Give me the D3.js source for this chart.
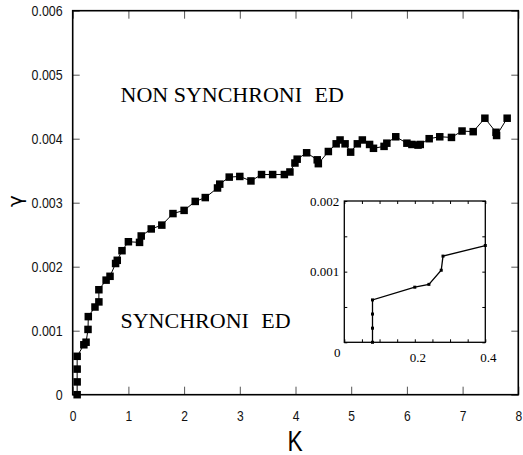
<!DOCTYPE html>
<html><head><meta charset="utf-8">
<script src="https://cdn.jsdelivr.net/npm/d3@7"></script>
<style>
html,body{margin:0;padding:0;background:#fff;}
svg{display:block;}
.narrow{font-family:"Liberation Sans Narrow","Arial Narrow","Liberation Sans",Arial,sans-serif;}
.serif{font-family:"Liberation Serif","Times New Roman",Times,serif;}
.greek{font-family:"DejaVu Sans",sans-serif;}
</style>
</head><body>
<svg id="chart" width="523" height="455"></svg>
<script>
// K values (x) and gamma values (y)
const kValues = [0.08,0.08,0.08,0.08,0.2,0.24,0.275,0.28,0.40,0.47,0.47,0.60,0.67,0.77,0.80,0.885,1.0,1.2,1.23,1.41,1.60,1.80,2.0,2.2,2.38,2.6,2.64,2.81,3.0,3.2,3.39,3.59,3.8,3.9,3.99,4.03,4.2,4.39,4.41,4.59,4.73,4.80,4.89,4.99,5.11,5.2,5.33,5.40,5.59,5.64,5.80,6.0,6.09,6.20,6.24,6.40,6.59,6.80,6.99,7.19,7.40,7.60,7.61,7.80];
const gammaValues = [0,0.0002,0.0004,0.0006,0.00078,0.00082,0.00102,0.00122,0.00137,0.00145,0.00164,0.00179,0.00185,0.00205,0.0021,0.00225,0.00239,0.00238,0.00248,0.00259,0.00265,0.00283,0.00288,0.00302,0.00308,0.00323,0.00329,0.0034,0.00341,0.00334,0.00344,0.00344,0.00344,0.00348,0.00362,0.00368,0.00378,0.00367,0.00361,0.0038,0.00392,0.00398,0.00392,0.00379,0.00392,0.00398,0.00391,0.00385,0.00388,0.00393,0.00403,0.00393,0.00391,0.0039,0.00391,0.004,0.00403,0.00402,0.00412,0.00411,0.00432,0.0041,0.00405,0.00432];

const xTicks = [0,1,2,3,4,5,6,7,8];
const yTicks = [0,0.001,0.002,0.003,0.004,0.005,0.006];
const yTickLabels = ["0","0.001","0.002","0.003","0.004","0.005","0.006"];
const insetXTicks = [0,0.05,0.1,0.15,0.2,0.25,0.3,0.35,0.4];
const insetXLabels = [[0.2,"0.2"],[0.4,"0.4"]];
const insetYTicks = [0,0.0005,0.001,0.0015,0.002];
const insetYLabels = [[0.001,"0.001"],[0.002,"0.002"]];
const insetKMax = 0.4;

const data = kValues.map((k,i)=>({k:k,g:gammaValues[i]}));
const svg = d3.select("#chart");

// condense a sans text (no narrow font installed)
function condense(sel, f){
  sel.each(function(){
    const len = this.getComputedTextLength();
    if(len>0){ d3.select(this).attr("textLength",len*f).attr("lengthAdjust","spacingAndGlyphs"); }
  });
}

// main scales
const L=72.7,R=518.3,T=10.7,B=394.7;
const x = d3.scaleLinear().domain([0,8]).range([L,R]);
const y = d3.scaleLinear().domain([0,0.006]).range([B,T]);

const tickColor="#555";
function styleAxis(g){
  g.select(".domain").remove();
  g.selectAll(".tick line").attr("stroke",tickColor).attr("stroke-width",1);
}
// left axis
svg.append("g").attr("transform",`translate(${L},0)`)
  .call(d3.axisLeft(y).tickValues(yTicks).tickSize(-7).tickPadding(10)
    .tickFormat((d,i)=>yTickLabels[i]))
  .call(styleAxis)
  .call(g=>g.selectAll("text").attr("class","narrow").attr("font-size",15).attr("fill","#111").attr("font-family",null))
  .call(g=>condense(g.selectAll("text"),0.83));
// right axis
svg.append("g").attr("transform",`translate(${R},0)`)
  .call(d3.axisRight(y).tickValues(yTicks).tickSize(-7).tickFormat(""))
  .call(styleAxis);
// bottom axis
svg.append("g").attr("transform",`translate(0,${B})`)
  .call(d3.axisBottom(x).tickValues(xTicks).tickSize(-8).tickPadding(16).tickFormat(d3.format("d")))
  .call(styleAxis)
  .call(g=>g.selectAll("text").attr("class","narrow").attr("font-size",14.5).attr("fill","#111").attr("font-family",null))
  .call(g=>condense(g.selectAll("text"),0.83));
// top axis
svg.append("g").attr("transform",`translate(0,${T})`)
  .call(d3.axisTop(x).tickValues(xTicks).tickSize(-8).tickFormat(""))
  .call(styleAxis);

// frame
svg.append("rect").attr("x",L).attr("y",T).attr("width",R-L).attr("height",B-T)
  .attr("fill","none").attr("stroke","#000").attr("stroke-width",1.6);

// line + markers
const line = d3.line().x(d=>x(d.k)).y(d=>y(d.g));
svg.append("path").datum(data).attr("d",line).attr("fill","none").attr("stroke","#000").attr("stroke-width",1);
const ms=7.5;
svg.append("g").selectAll("rect").data(data).join("rect")
  .attr("x",d=>x(d.k)-ms/2).attr("y",d=>y(d.g)-ms/2).attr("width",ms).attr("height",ms).attr("fill","#000");

// axis titles
svg.append("text").attr("class","narrow").attr("x",(L+R)/2-0.5).attr("y",450.5)
  .attr("text-anchor","middle").attr("font-size",30).text("K")
  .call(s=>condense(s,0.76));
svg.append("text").attr("class","greek").attr("transform","translate(22,201) rotate(-90)")
  .attr("text-anchor","middle").attr("font-size",20).text("γ");

// region labels
const t1 = svg.append("text").attr("class","serif").attr("x",120.5).attr("y",102).attr("font-size",22);
t1.append("tspan").text("NON SYNCHRONI");
t1.append("tspan").attr("dx",7).text(" ED");
const t2 = svg.append("text").attr("class","serif").attr("x",120.5).attr("y",328).attr("font-size",22);
t2.append("tspan").text("SYNCHRONI");
t2.append("tspan").attr("dx",7).text(" ED");

// inset
const iL=344.3,iR=485.3,iT=201,iB=342.3;
const ix = d3.scaleLinear().domain([0,0.4]).range([iL,iR]);
const iy = d3.scaleLinear().domain([0,0.002]).range([iB,iT]);
svg.append("rect").attr("x",iL).attr("y",iT).attr("width",iR-iL).attr("height",iB-iT).attr("fill","#fff");
const ig = svg.append("g");
ig.append("g").attr("transform",`translate(0,${iB})`).call(d3.axisBottom(ix).tickValues(insetXTicks).tickSize(-3).tickFormat("")).call(styleAxis);
ig.append("g").attr("transform",`translate(0,${iT})`).call(d3.axisTop(ix).tickValues(insetXTicks).tickSize(-3).tickFormat("")).call(styleAxis);
ig.append("g").attr("transform",`translate(${iL},0)`).call(d3.axisLeft(iy).tickValues(insetYTicks).tickSize(-3).tickFormat("")).call(styleAxis);
ig.append("g").attr("transform",`translate(${iR},0)`).call(d3.axisRight(iy).tickValues(insetYTicks).tickSize(-3).tickFormat("")).call(styleAxis);
ig.selectAll(".tick line").attr("stroke","#000");
ig.append("rect").attr("x",iL).attr("y",iT).attr("width",iR-iL).attr("height",iB-iT)
  .attr("fill","none").attr("stroke","#000").attr("stroke-width",1.3);
const idata = data.filter(d=>d.k<=insetKMax);
const iline = d3.line().x(d=>ix(d.k)).y(d=>iy(d.g));
ig.append("path").datum(idata).attr("d",iline).attr("fill","none").attr("stroke","#000").attr("stroke-width",1.3);
ig.append("g").selectAll("rect").data(idata).join("rect")
  .attr("x",d=>ix(d.k)-1.5).attr("y",d=>iy(d.g)-1.5).attr("width",3).attr("height",3).attr("fill","#000");
// inset labels
ig.selectAll("text.iy").data(insetYLabels).join("text").attr("class","serif iy")
  .attr("x",iL-5).attr("y",d=>iy(d[0])).attr("dy","0.35em").attr("text-anchor","end")
  .attr("font-size",13).text(d=>d[1]);
ig.selectAll("text.ix").data(insetXLabels).join("text").attr("class","serif ix")
  .attr("x",d=>ix(d[0])+3).attr("y",iB+15).attr("dy","0.35em").attr("text-anchor","middle")
  .attr("font-size",13).text(d=>d[1]);
ig.append("text").attr("class","serif").attr("x",iL-7).attr("y",iB+10).attr("dy","0.35em")
  .attr("text-anchor","middle").attr("font-size",13).text("0");
</script>
</body></html>
